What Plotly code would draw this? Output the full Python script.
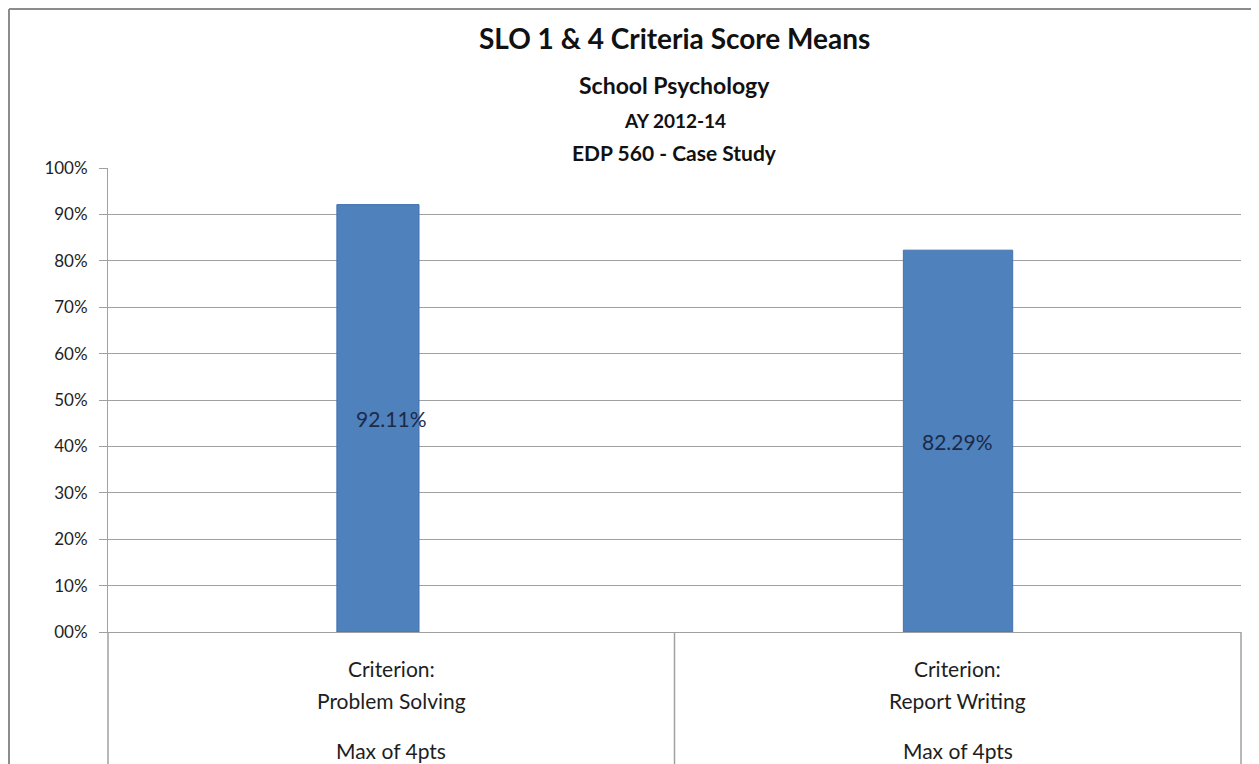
import plotly.graph_objects as go

# ---- data ----
categories = ["Problem Solving", "Report Writing"]
category_prefix = ["Criterion:", "Criterion:"]
category_note = ["Max of 4pts", "Max of 4pts"]
values = [92.11, 82.29]
value_labels = ["92.11%", "82.29%"]
y_ticks = [0, 10, 20, 30, 40, 50, 60, 70, 80, 90, 100]
y_tick_labels = ["00%", "10%", "20%", "30%", "40%", "50%", "60%", "70%", "80%", "90%", "100%"]
title_lines = ["SLO 1 & 4 Criteria Score Means", "School Psychology", "AY 2012-14", "EDP 560 - Case Study"]

FONT = "Lato"
GRID = "#a0a0a0"
TXT = "#1e1e1e"

W, H = 1251, 756          # page has an 8px body margin
ML, MR, MT, MB = 100, 18, 160, 132
PH = H - MT - MB          # plot height in px
PW = W - ML - MR

x_idx = list(range(len(categories)))

fig = go.Figure()
fig.add_trace(go.Bar(
    x=x_idx, y=values,
    width=[0.145, 0.193],
    offset=-0.096,
    marker=dict(color="#4f81bd", line=dict(color="#4472b0", width=1)),
    hoverinfo="skip",
))

annotations = []
for i, (v, lab) in enumerate(zip(values, value_labels)):
    annotations.append(dict(x=i, y=v / 2, xref="x", yref="y", text=lab, showarrow=False,
                            font=dict(family=FONT, size=21, color="#1c2a48")))
for i in x_idx:
    for txt, shift in [(category_prefix[i], -36), (categories[i], -68), (category_note[i], -118)]:
        annotations.append(dict(x=i, y=0, xref="x", yref="y", text=txt, showarrow=False,
                                yshift=shift, yanchor="middle",
                                font=dict(family=FONT, size=21, color=TXT)))
for txt, shift, size in zip(title_lines, [130, 83, 48, 16], [28, 23, 19, 21]):
    annotations.append(dict(x=0.5, y=1, xref="paper", yref="paper", text="<b>%s</b>" % txt,
                            showarrow=False, yshift=shift, yanchor="middle",
                            font=dict(family=FONT, size=size, color="#111111")))

shapes = []
for px in [0, 0.5, 1]:
    shapes.append(dict(type="line", xref="paper", yref="paper", x0=px, x1=px, y0=0, y1=-0.4,
                       line=dict(color=GRID, width=1.5)))
# outer chart border (top and left), at figure edge
bx = -(ML - 1) / PW
by = 1 + (MT - 1) / PH
shapes.append(dict(type="line", xref="paper", yref="paper", x0=bx, x1=1.05, y0=by, y1=by,
                   line=dict(color="#8c8c8c", width=2)))
shapes.append(dict(type="line", xref="paper", yref="paper", x0=bx, x1=bx, y0=-0.4, y1=by,
                   line=dict(color="#8c8c8c", width=2)))

fig.update_layout(
    width=W, height=H,
    margin=dict(l=ML, r=MR, t=MT, b=MB),
    paper_bgcolor="white", plot_bgcolor="white",
    showlegend=False,
    annotations=annotations,
    shapes=shapes,
    xaxis=dict(range=[-0.5, 1.5], showticklabels=False, showgrid=False, zeroline=False,
               showline=True, linecolor=GRID, linewidth=1, ticks="", fixedrange=True),
    yaxis=dict(range=[0, 100], tickvals=y_ticks, ticktext=y_tick_labels,
               showgrid=True, gridcolor=GRID, gridwidth=1, zeroline=False,
               showline=True, linecolor=GRID, linewidth=1,
               ticks="outside", ticklen=8, tickcolor=GRID, ticklabelstandoff=8,
               tickfont=dict(family=FONT, size=17, color=TXT), fixedrange=True),
)

fig.write_html("out.html")
